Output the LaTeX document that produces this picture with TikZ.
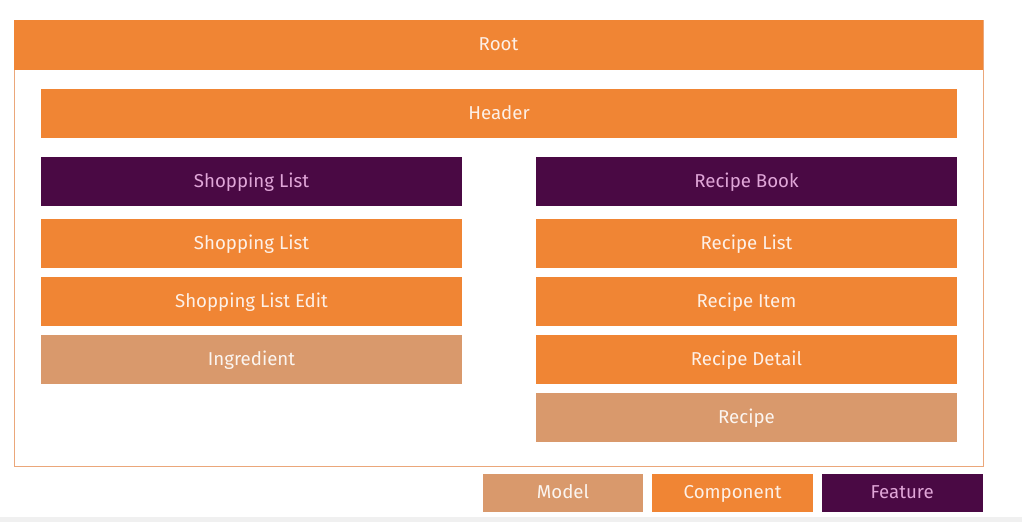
\documentclass[tikz,border=0pt]{standalone}
\usepackage{fontspec}
\setmainfont{Fira Sans}
\usetikzlibrary{positioning}

\definecolor{compcol}{HTML}{F08534}
\definecolor{modelcol}{HTML}{D9996C}
\definecolor{featcol}{HTML}{4A0944}
\definecolor{feattext}{HTML}{E0A6D8}
\definecolor{frameedge}{HTML}{EBA77A}

\begin{document}
\begin{tikzpicture}[x=0.75pt, y=-0.75pt,
						node distance=6.3pt,
						box/.style={rectangle, inner sep=0pt, minimum height=36.75pt, text height=1.95ex, text depth=0.35ex, font=\fontsize{14}{16}\selectfont},
						component/.style={box, fill=compcol, text=compcol!12},
						model/.style={box, fill=modelcol, text=modelcol!10},
						feature/.style={box, fill=featcol, text=feattext},
						colbox/.style={minimum width=315.75pt},
						legend/.style={minimum width=120.5pt, minimum height=28.5pt},]
		\useasboundingbox (0,0) rectangle (1022,522);
		\fill[black!6] (0,517) rectangle (1022,522);

		\node (frame) [draw=frameedge, line width=0.75pt, minimum width=726.75pt, minimum height=334.5pt] at (498.5,243) {};
		\node (root) [component, minimum width=726.75pt, minimum height=37.5pt] at (498.5,45) {Root};
		\node (header) [component, minimum width=687pt] at (499,113.5) {Header};

		% shopping list side
		\node (shop_feat) [feature,colbox] at (251.5,181.5) {Shopping List};
		\node (shop_list) [component,colbox,below=9.5pt of shop_feat] {Shopping List};
		\node (shop_edit) [component,colbox,below=of shop_list] {Shopping List Edit};
		\node (ingredient) [model,colbox,below=of shop_edit] {Ingredient};

		% recipe book side
		\node (recipe_feat) [feature,colbox] at (746.5,181.5) {Recipe Book};
		\node (recipe_list) [component,colbox,below=9.5pt of recipe_feat] {Recipe List};
		\node (recipe_item) [component,colbox,below=of recipe_list] {Recipe Item};
		\node (recipe_detail) [component,colbox,below=of recipe_item] {Recipe Detail};
		\node (recipe) [model,colbox,below=of recipe_detail] {Recipe};

		% legend
		\node (leg_model) [model,legend] at (563,493) {Model};
		\node (leg_comp) [component,legend,right=of leg_model] {Component};
		\node (leg_feat) [feature,legend,right=of leg_comp] {Feature};
	\end{tikzpicture}
\end{document}
